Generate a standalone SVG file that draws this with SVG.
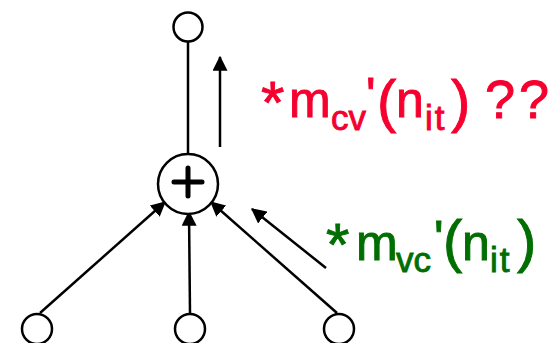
<svg xmlns="http://www.w3.org/2000/svg" width="552" height="343" viewBox="0 0 552 343">
<defs>
<marker id="ah" markerWidth="6" markerHeight="6" refX="5.5" refY="3" orient="auto" markerUnits="strokeWidth">
<path d="M0,0 L6,3 L0,6 Z" fill="#000"/>
</marker>
<style>
.nd{fill:#fff;stroke:#000;stroke-width:2.5}
.ed{stroke:#000;stroke-width:2.5;fill:none}
.ar{stroke:#000;stroke-width:2.5;fill:none;marker-end:url(#ah)}
.t{font-family:"Liberation Sans",Arial,sans-serif;font-size:50px;stroke-width:0.9}
.red{fill:#f5002f;stroke:#f5002f}
.grn{fill:#006e00;stroke:#006e00}
.ast{font-size:60px}
.sub{font-size:35px}
.par{font-size:58px}
</style>
</defs>
<g id="connectors">
<line class="ed" x1="188" y1="42" x2="188" y2="154"/>
<line class="ar" x1="40" y1="313" x2="165" y2="202"/>
<line class="ar" x1="190" y1="313" x2="189" y2="212"/>
<line class="ar" x1="337" y1="313" x2="211" y2="202"/>
<line class="ar" x1="220" y1="147" x2="220" y2="57"/>
<line class="ar" x1="326" y1="268" x2="252" y2="209"/>
</g>
<g id="top"><circle class="nd" cx="188" cy="27" r="14.5"/></g>
<g id="sum">
<circle class="nd" cx="188" cy="184" r="30"/>
<path d="M174,182 H202 M188,168 V196" stroke="#000" stroke-width="5" stroke-linecap="round"/>
</g>
<g id="v1"><circle class="nd" cx="37" cy="329" r="15"/></g>
<g id="v2"><circle class="nd" cx="190" cy="329" r="15"/></g>
<g id="v3"><circle class="nd" cx="339" cy="329" r="15"/></g>
<g id="lbl-cv">
<text class="t red"><tspan class="ast" x="261" y="123">*</tspan><tspan x="289" y="117">m</tspan><tspan class="sub" x="331" y="130">cv</tspan><tspan x="366" y="113">'</tspan><tspan class="par" x="377" y="121">(</tspan><tspan x="396" y="117">n</tspan><tspan class="sub" x="425" y="130" letter-spacing="2">it</tspan><tspan class="par" x="451" y="121">)</tspan><tspan x="485" y="118" font-size="54" letter-spacing="4">??</tspan></text>
</g>
<g id="lbl-vc">
<text class="t grn"><tspan class="ast" x="326" y="265">*</tspan><tspan x="356" y="260">m</tspan><tspan class="sub" x="396" y="272">vc</tspan><tspan x="434" y="256">'</tspan><tspan class="par" x="443" y="261">(</tspan><tspan x="462" y="260">n</tspan><tspan class="sub" x="490" y="272" letter-spacing="2">it</tspan><tspan class="par" x="517" y="261">)</tspan></text>
</g>
</svg>
